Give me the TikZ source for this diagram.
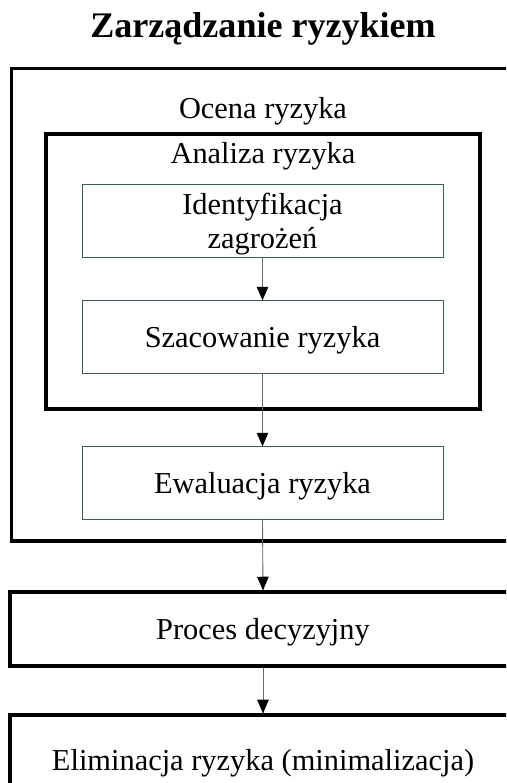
\documentclass[tikz,border=0pt]{standalone}
\usepackage{fontspec}
\setmainfont{Liberation Serif}
\usetikzlibrary{arrows.meta,
                 decorations.markings}
\definecolor{boxgreen}{RGB}{60,95,75}
\tikzset{arr/.style = {draw=gray!80!black, line width=0.5pt, decoration={markings, mark=at position 1 with {\arrow[black]{Triangle[length=0.27cm,width=0.23cm]}}}, postaction={decorate}}}
\tikzset{stepbox/.style = {draw=boxgreen, line width=0.5pt, minimum width=7.22cm, minimum height=1.45cm, align=center, inner sep=0}}
\tikzset{bigbox/.style = {draw, line width=2pt, minimum width=10.12cm, align=center, inner sep=0}}
\tikzset{txt/.style = {font=\fontsize{17.3}{19.3}\selectfont, text height=13pt, text depth=1.5pt}}

\begin{document}
\begin{tikzpicture}
\useasboundingbox (0,0) rectangle (10.12,15.66);
\clip (0,0) rectangle (10.12,15.66);
\node (title) at (5.26,15.08) {\fontsize{20.5}{23}\selectfont\bfseries Zarządzanie ryzykiem};
\draw[line width=2pt] (0.23,14.29) rectangle (10.29,4.84);
\node[txt] (ocena) at (5.26,13.5) {Ocena ryzyka};
\draw[line width=2pt] (0.92,12.98) rectangle (9.6,7.48);
\node[txt] (analiza) at (5.26,12.6) {Analiza ryzyka};
\node[stepbox, font=\fontsize{17.3}{19.3}\selectfont, text depth=0pt, minimum height=1.46cm] (ident) at (5.25,11.25) {Identyfikacja\\zagrożeń};
\node[stepbox, txt] (szac) at (5.25,8.92) {Szacowanie ryzyka};
\node[stepbox, txt] (ewal) at (5.25,6.0) {Ewaluacja ryzyka};
\node[bigbox, txt, minimum height=1.48cm] (proc) at (5.26,3.08) {Proces decyzyjny};
\node[bigbox, txt, minimum height=1.8cm] (elim) at (5.26,0.46) {Eliminacja ryzyka (minimalizacja)};
\draw[arr] (ident.south) -- (szac.north);
\draw[arr] (szac.south) -- (ewal.north);
\draw[arr] (ewal.south) -- (proc.north);
\draw[arr] (proc.south) -- (elim.north);
\end{tikzpicture}
\end{document}
